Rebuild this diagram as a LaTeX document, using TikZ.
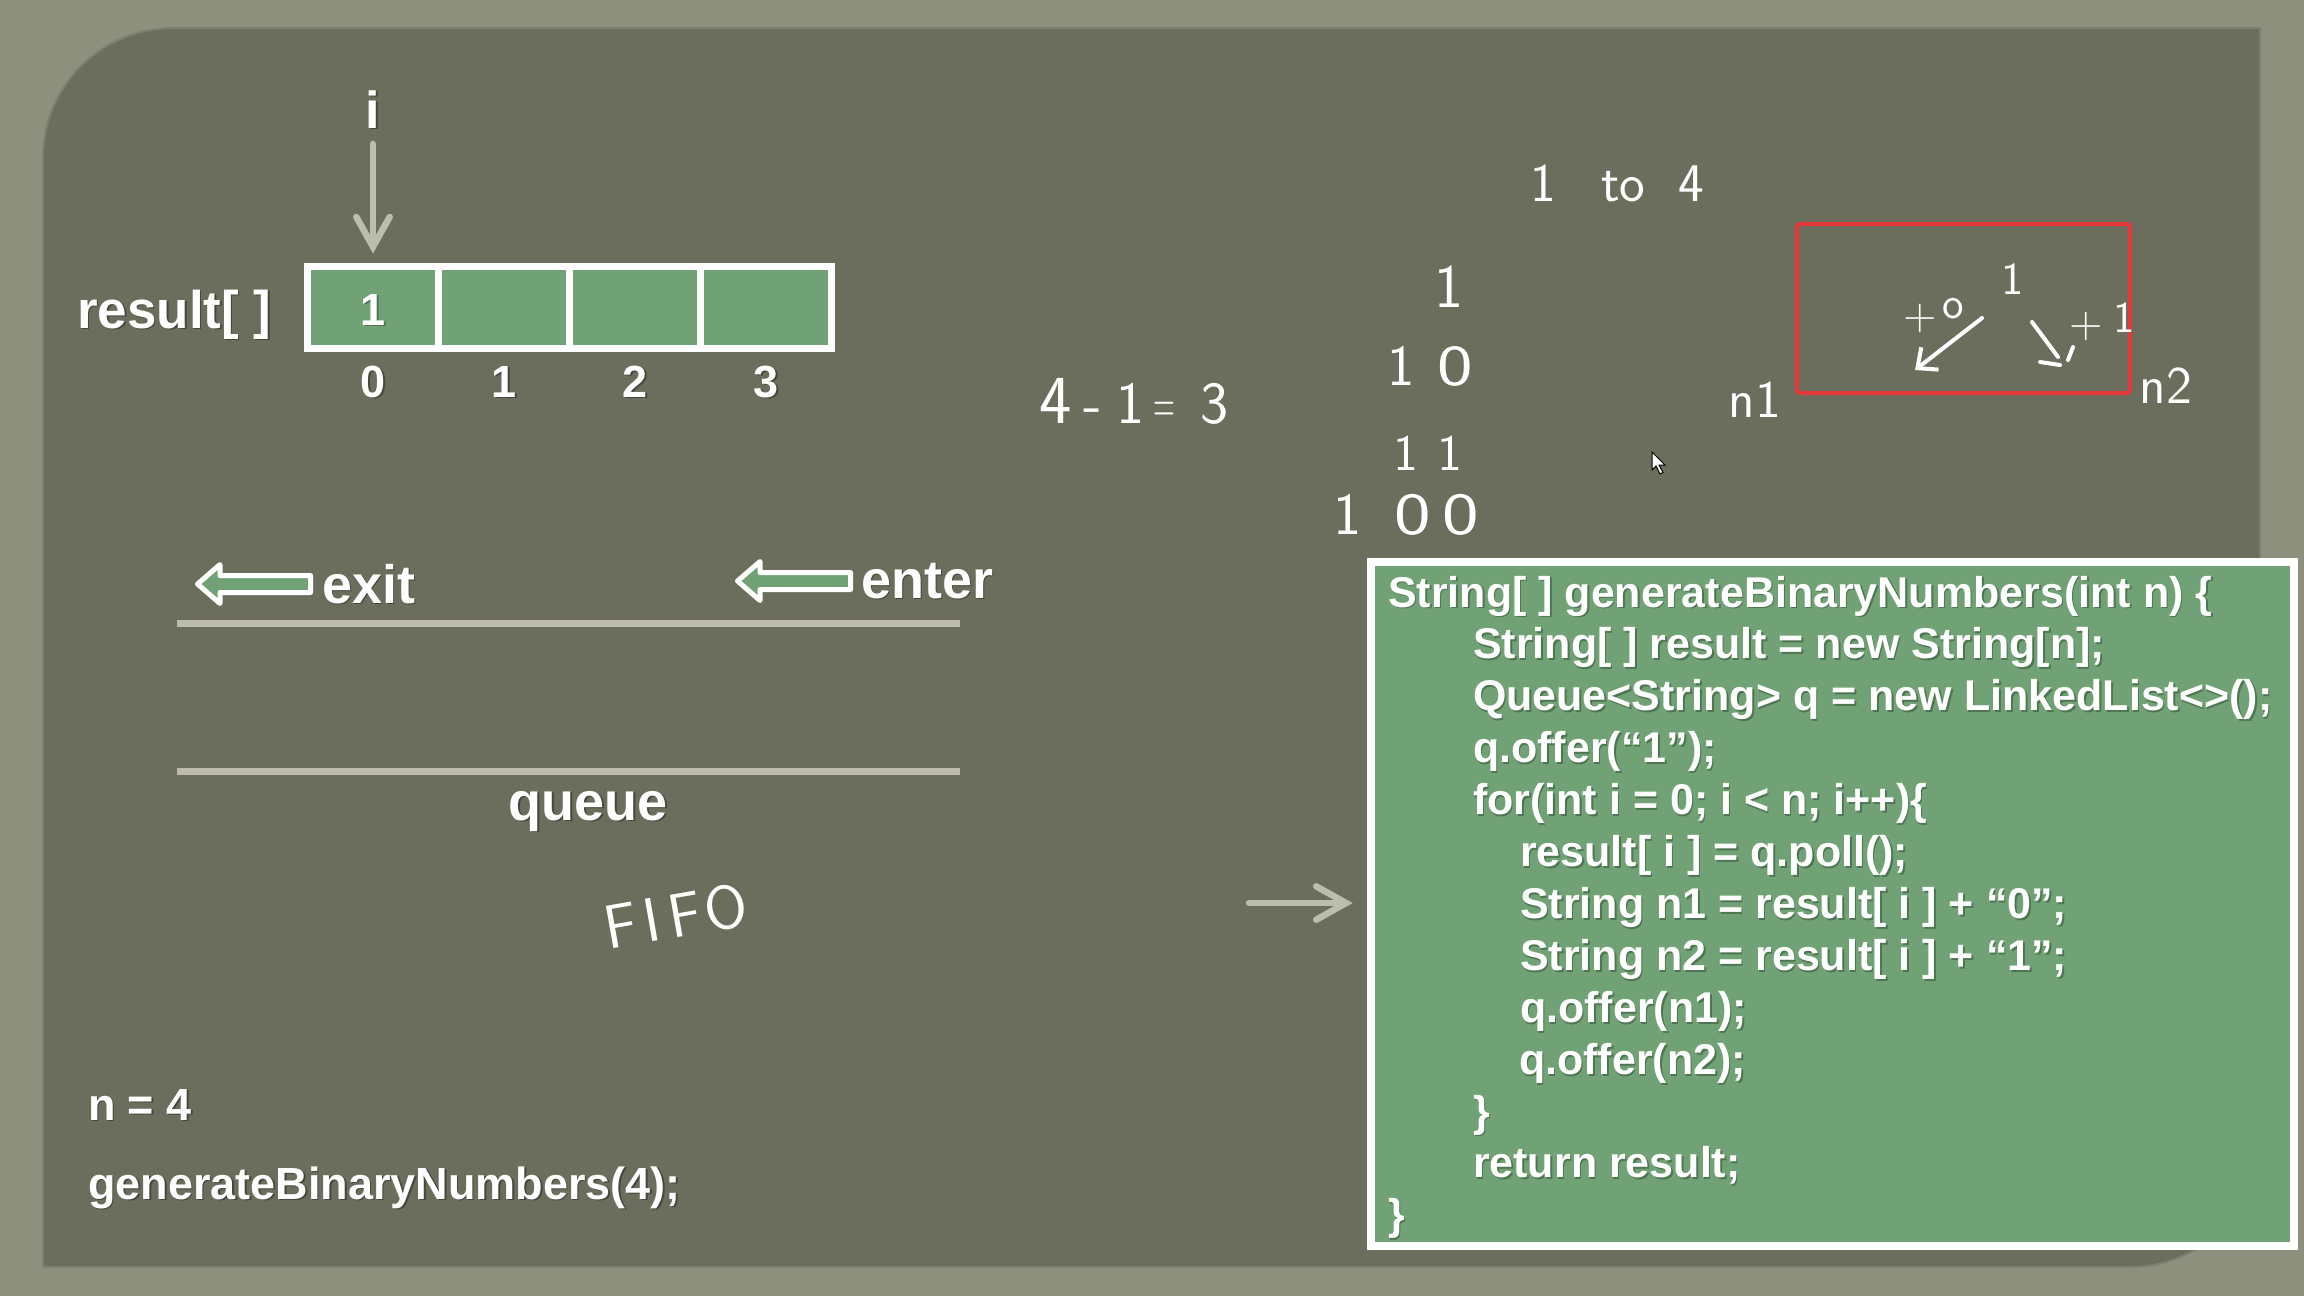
\documentclass[tikz,border=0pt]{standalone}
\usepackage{fontspec}
\usepackage{graphicx}
\setmainfont{Liberation Sans}
\usetikzlibrary{arrows.meta}
\definecolor{outerbg}{HTML}{8C907C}
\definecolor{panelbg}{HTML}{6B6D5D}
\definecolor{panelrim}{HTML}{7E816D}
\definecolor{cellgreen}{HTML}{70A275}
\definecolor{linegray}{HTML}{BEBCAA}
\definecolor{arrowgray}{HTML}{BDBDAE}
\definecolor{redbox}{HTML}{E5393B}
\definecolor{shadowpanel}{HTML}{45473B}
\definecolor{shadowgreen}{HTML}{4F7653}
\newcommand{\shd}[2]{\leavevmode\rlap{\hspace{0.45pt}\raisebox{-0.55pt}{\textcolor{#1}{#2}}}#2}
\newcommand{\wz}{\scalebox{1.3}[1]{0}}
\tikzset{
  slidetext/.style={text=white, inner sep=0pt, outer sep=0pt},
  codeline/.style={slidetext, anchor=base west, font=\fontsize{12.23pt}{14pt}\selectfont\bfseries},
  handtext/.style={text=white, inner sep=0pt, outer sep=0pt},
  cellbox/.style={draw=white, fill=cellgreen, line width=0.07cm, minimum width=1.31cm, minimum height=0.82cm, inner sep=0pt, outer sep=0pt},
  grayarrow/.style={draw=arrowgray, line width=0.065cm, line cap=round, -{Straight Barb[length=8.5pt,width=9.5pt,line cap=round]}},
  queueline/.style={draw=linegray, line width=0.07cm},
  blockarrow/.style={draw=white, fill=cellgreen, line width=0.05cm, line join=round},
  handline/.style={draw=white, line width=0.04cm, line cap=round, line join=round},
}
\begin{document}
\begin{tikzpicture}[x=0.01cm, y=-0.01cm]
\useasboundingbox (0,0) rectangle (2304,1296);
\fill[outerbg] (0,0) rectangle (2304,1296);
% panel
\filldraw[fill=panelbg, draw=panelrim, line width=0.02cm]
  (43,1267) -- (43,158) .. controls (43,86) and (101,28) .. (173,28)
  -- (2260,28) -- (2260,1137) .. controls (2260,1209) and (2202,1267) .. (2130,1267) -- cycle;

% result array
\node[slidetext, anchor=base west, font=\fontsize{15.08pt}{17pt}\selectfont\bfseries] (reslab) at (77,328) {\shd{shadowpanel}{result[ ]}};
\node[cellbox] (c0) at (373,307.5) {};
\node[cellbox] (c1) at (504,307.5) {};
\node[cellbox] (c2) at (635,307.5) {};
\node[cellbox] (c3) at (766,307.5) {};
\node[slidetext, anchor=base, font=\fontsize{12.8pt}{14pt}\selectfont\bfseries] (v0) at (373,325) {\shd{shadowgreen}{1}};
\foreach \k/\xx in {0/373,1/504,2/635,3/766}{
  \node[slidetext, anchor=base, font=\fontsize{12.8pt}{14pt}\selectfont\bfseries] (idx\k) at (\xx,397) {\shd{shadowpanel}{\k}};
}
\node[slidetext, anchor=base, font=\fontsize{14.8pt}{16pt}\selectfont\bfseries] (ilab) at (373,128) {\shd{shadowpanel}{i}};
\draw[grayarrow, shorten <=0.14cm, shorten >=0.13cm] (ilab.south) -- (c0.north);

% queue
\filldraw[blockarrow] (197.5,584) -- (220,564.5) -- (220,575.5) -- (310.5,575.5) -- (310.5,592.5) -- (220,592.5) -- (220,603.5) -- cycle;
\begin{scope}[shift={(540,-3)}]
\filldraw[blockarrow] (197.5,584) -- (220,564.5) -- (220,575.5) -- (310.5,575.5) -- (310.5,592.5) -- (220,592.5) -- (220,603.5) -- cycle;
\end{scope}
\node[slidetext, anchor=base west, font=\fontsize{15.36pt}{17pt}\selectfont\bfseries] (exitlab) at (322,603) {\shd{shadowpanel}{exit}};
\node[slidetext, anchor=base west, font=\fontsize{15.36pt}{17pt}\selectfont\bfseries] (enterlab) at (861,598) {\shd{shadowpanel}{enter}};
\draw[queueline] (177,623) -- (960,623);
\draw[queueline] (177,771) -- (960,771);
\node[slidetext, anchor=base, font=\fontsize{15.36pt}{17pt}\selectfont\bfseries] (queuelab) at (588,820) {\shd{shadowpanel}{queue}};
\node[handtext, font=\sffamily\fontsize{17.6pt}{19pt}\selectfont, rotate=10] (fifo) at (676,916) {F\hspace{0.1em}I\hspace{0.16em}F\hspace{0.06em}O};

% call
\node[slidetext, anchor=base west, font=\fontsize{12.8pt}{14pt}\selectfont\bfseries] (nlab) at (88,1120) {\shd{shadowpanel}{n = 4}};
\node[slidetext, anchor=base west, font=\fontsize{12.8pt}{14pt}\selectfont\bfseries] (calllab) at (88,1199) {\shd{shadowpanel}{generateBinaryNumbers(4);}};

% handwriting
\node[handtext, font=\sffamily\fontsize{15.5pt}{17pt}\selectfont] (range) at (1617,183) {1\hspace{0.83em}to\hspace{0.6em}4};
\node[handtext, font=\sffamily\fontsize{17.6pt}{19pt}\selectfont] (b1) at (1449,287) {1};
\node[handtext, font=\sffamily\fontsize{16.5pt}{18pt}\selectfont] (b10) at (1430,366) {1\hspace{0.4em}\wz};
\node[handtext, font=\sffamily\fontsize{14.5pt}{16pt}\selectfont] (b11) at (1428,453) {1\hspace{0.39em}1};
\node[handtext, font=\sffamily\fontsize{17pt}{19pt}\selectfont] (b100) at (1406,515) {1\hspace{0.56em}\wz\hspace{0.18em}\wz};
\node[handtext, font=\sffamily\fontsize{17pt}{19pt}\selectfont] (calc) at (1134,401) {\scalebox{1.15}{4}\hspace{0.2em}-\hspace{0.23em}1\hspace{0.16em}\scalebox{0.5}[1]{=}\hspace{0.41em}3};
\node[handtext, font=\sffamily\fontsize{15pt}{17pt}\selectfont] (n1lab) at (1755,400) {n1};
\node[handtext, font=\sffamily\fontsize{15pt}{17pt}\selectfont] (n2lab) at (2166,386) {n2};
\draw[draw=redbox, line width=0.04cm, rounded corners=0.03cm] (1797,224) rectangle (2130,393);
\node[handtext, font=\sffamily\fontsize{13pt}{15pt}\selectfont] (root) at (2013,279) {1};
\node[handtext, font=\sffamily\fontsize{12.5pt}{14pt}\selectfont] (plus0) at (1934,316) {+\hspace{0.12em}\raisebox{0.25em}{o}};
\node[handtext, font=\sffamily\fontsize{12.5pt}{14pt}\selectfont] (plus1) at (2102,322) {+\hspace{0.25em}\raisebox{0.1em}{1}};
\coordinate (a0s) at (1982,318);
\coordinate (a0e) at (1915,370);
\draw[handline, -{Straight Barb[length=4.5pt,width=8pt]}] (a0s) -- (a0e);
\coordinate (a1s) at (2032,322);
\coordinate (a1e) at (2058,357);
\draw[handline] (a1s) -- (a1e);
\draw[handline] (2040,362) -- (2060,365);
\draw[handline] (2073,347) -- (2068,360);
% cursor
\filldraw[fill=white, draw=black, line width=0.01cm] (1652,452) -- ++(0,18) -- ++(4,-4) -- ++(4,8) -- ++(3,-1.5) -- ++(-4,-7.5) -- ++(6,0) -- cycle;

% code box
\node[draw=white, fill=cellgreen, line width=0.08cm, minimum width=9.23cm, minimum height=6.84cm, inner sep=0pt, outer sep=0pt] (code) at (1832.5,904) {};
\coordinate (arrstart) at (1249,903);
\draw[grayarrow, shorten >=0.18cm] (arrstart) -- (code.west |- arrstart);

\node[codeline] (l1) at (1388,607) {\shd{shadowgreen}{String[ ] generateBinaryNumbers(int n) \{}};
\node[codeline] (l2) at (1473,658.9) {\shd{shadowgreen}{String[ ] result = new String[n];}};
\node[codeline] (l3) at (1473,710.8) {\shd{shadowgreen}{Queue<String> q = new LinkedList<>();}};
\node[codeline] (l4) at (1473,762.7) {\shd{shadowgreen}{q.offer(“1”);}};
\node[codeline] (l5) at (1473,814.6) {\shd{shadowgreen}{for(int i = 0; i < n; i++)\{}};
\node[codeline] (l6) at (1520,866.5) {\shd{shadowgreen}{result[ i ] = q.poll();}};
\node[codeline] (l7) at (1520,918.4) {\shd{shadowgreen}{String n1 = result[ i ] + “0”;}};
\node[codeline] (l8) at (1520,970.3) {\shd{shadowgreen}{String n2 = result[ i ] + “1”;}};
\node[codeline] (l9) at (1520,1022.2) {\shd{shadowgreen}{q.offer(n1);}};
\node[codeline] (l10) at (1519,1074.1) {\shd{shadowgreen}{q.offer(n2);}};
\node[codeline] (l11) at (1473,1126) {\shd{shadowgreen}{\}}};
\node[codeline] (l12) at (1473,1177.9) {\shd{shadowgreen}{return result;}};
\node[codeline] (l13) at (1388,1229.8) {\shd{shadowgreen}{\}}};
\end{tikzpicture}
\end{document}
